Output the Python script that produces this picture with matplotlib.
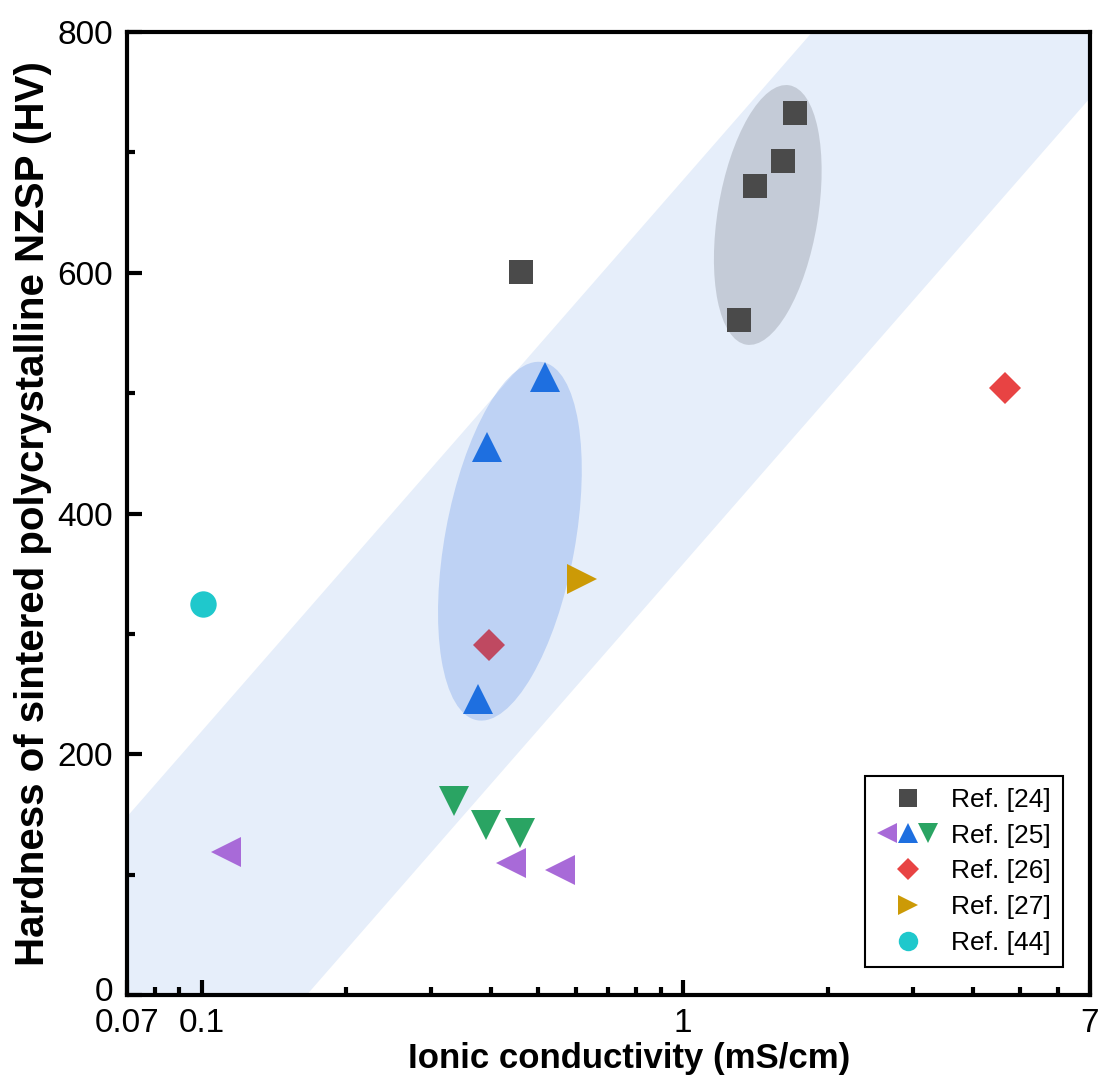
import numpy as np
import matplotlib.pyplot as plt
from matplotlib.patches import Ellipse
from matplotlib.legend_handler import HandlerTuple
from matplotlib.lines import Line2D
from matplotlib.transforms import ScaledTranslation

plt.rcParams['font.family'] = ['Liberation Sans', 'DejaVu Sans']

# data (conductivity in mS/cm, hardness in HV)
ref24_x = [0.461, 1.307, 1.411, 1.613, 1.709]
ref24_y = [601, 561, 672, 693, 733]

ref25_up_x = [0.517, 0.392, 0.375]
ref25_up_y = [513, 455, 246]
ref25_down_x = [0.3345, 0.390, 0.4585]
ref25_down_y = [161, 141, 135]
ref25_left_x = [0.1124, 0.440, 0.555]
ref25_left_y = [119, 110, 104]

ref26_x = [4.66, 0.395]
ref26_y = [504, 291]

ref27_x = [0.617]
ref27_y = [346]

ref44_x = [0.1007]
ref44_y = [325]

# trend band: hardness = intercept + slope * log10(conductivity)
band_slope = 458
band_upper = 677
band_lower = 358

fig = plt.figure(figsize=(11.02, 10.77), dpi=100)
ax = fig.add_axes([0.1152, 0.0761, 0.8738, 0.8942])
ax.set_xscale('log')
ax.set_xlim(0.07, 7)
ax.set_ylim(0, 800)

xb = np.logspace(np.log10(0.05), np.log10(10), 200)
ax.fill_between(xb, band_lower + band_slope * np.log10(xb),
                band_upper + band_slope * np.log10(xb),
                color='#e6eefa', lw=0, zorder=1)

def add_ellipse(cx, cy, w, h, ang, fc, alpha, z):
    pos = ax.transAxes.inverted().transform(ax.transData.transform((cx, cy)))
    e = Ellipse(pos, w, h, angle=ang, transform=ax.transAxes,
                facecolor=fc, edgecolor='none', alpha=alpha, zorder=z)
    ax.add_patch(e)

add_ellipse(1.50, 648, 0.104, 0.273, -9.4, '#787d87', 0.3, 2)
add_ellipse(0.437, 377, 0.135, 0.378, -10.4, '#1e64dc', 0.2, 4)

ms = dict(linestyle='none', markeredgewidth=0)
ax.plot(ref26_x, ref26_y, 'D', color='#e84343', markersize=16, zorder=3, **ms)
ax.plot(ref24_x, ref24_y, 's', color='#4a4a4a', markersize=17, zorder=5, **ms)
ax.plot(ref25_up_x, ref25_up_y, '^', color='#1e6fe0', markersize=21, zorder=5, **ms)
ax.plot(ref25_down_x, ref25_down_y, 'v', color='#2aa463', markersize=21, zorder=5, **ms)
ax.plot(ref25_left_x, ref25_left_y, '<', color='#a86ad8', markersize=21, zorder=5, **ms)
ax.plot(ref27_x, ref27_y, '>', color='#cc9a06', markersize=21, zorder=5, **ms)
ax.plot(ref44_x, ref44_y, 'o', color='#1fc8cc', markersize=19, zorder=5, **ms)

# axes styling
for s in ax.spines.values():
    s.set_linewidth(3)
ax.set_xticks([0.07, 0.1, 1, 7])
ax.set_xticklabels(['0.07', '0.1', '1', '7'])
ax.set_xticks([0.08, 0.09] + [0.1 * i for i in range(2, 10)] + [float(i) for i in range(2, 7)], minor=True)
ax.set_yticks([0, 200, 400, 600, 800])
ax.set_yticks([100, 300, 500, 700], minor=True)
ax.tick_params(which='both', direction='in', top=False, right=False, width=3,
               labelsize=24)
ax.tick_params(axis='y', pad=10)
ax.tick_params(axis='x', pad=9)
ax.tick_params(which='major', length=11)
ax.tick_params(which='minor', length=6)

# nudge the "0" label up a little so it clears "0.07"
zero_lbl = ax.yaxis.get_major_ticks()[0].label1
zero_lbl.set_transform(zero_lbl.get_transform() + ScaledTranslation(0, 4 / 72, fig.dpi_scale_trans))

ax.set_xlabel('Ionic conductivity (mS/cm)', fontsize=25, fontweight='bold')
ax.xaxis.set_label_coords(0.521, -0.066, transform=ax.transAxes)
ax.xaxis.label.set_verticalalignment('center')
ax.set_ylabel('Hardness of sintered polycrystalline NZSP (HV)', fontsize=29,
              fontweight='bold', labelpad=4)

lk = dict(linestyle='none', markeredgewidth=0)
h24 = Line2D([], [], marker='s', color='#4a4a4a', markersize=13, **lk)
h25 = (Line2D([], [], marker='<', color='#a86ad8', markersize=15, **lk),
       Line2D([], [], marker='^', color='#1e6fe0', markersize=15, **lk),
       Line2D([], [], marker='v', color='#2aa463', markersize=15, **lk))
h26 = Line2D([], [], marker='D', color='#e84343', markersize=11, **lk)
h27 = Line2D([], [], marker='>', color='#cc9a06', markersize=15, **lk)
h44 = Line2D([], [], marker='o', color='#1fc8cc', markersize=14, **lk)
leg = ax.legend([h24, h25, h26, h27, h44],
                ['Ref. [24]', 'Ref. [25]', 'Ref. [26]', 'Ref. [27]', 'Ref. [44]'],
                handler_map={tuple: HandlerTuple(ndivide=None, pad=0)},
                loc='lower right', bbox_to_anchor=(0.972, 0.029), fontsize=19,
                fancybox=False, edgecolor='black', framealpha=1,
                handlelength=2.3, handletextpad=0.5, labelspacing=0.45,
                borderpad=0.45, borderaxespad=0)
leg.get_frame().set_linewidth(1.5)
leg.set_zorder(10)

fig.savefig('out.png', dpi=100)
